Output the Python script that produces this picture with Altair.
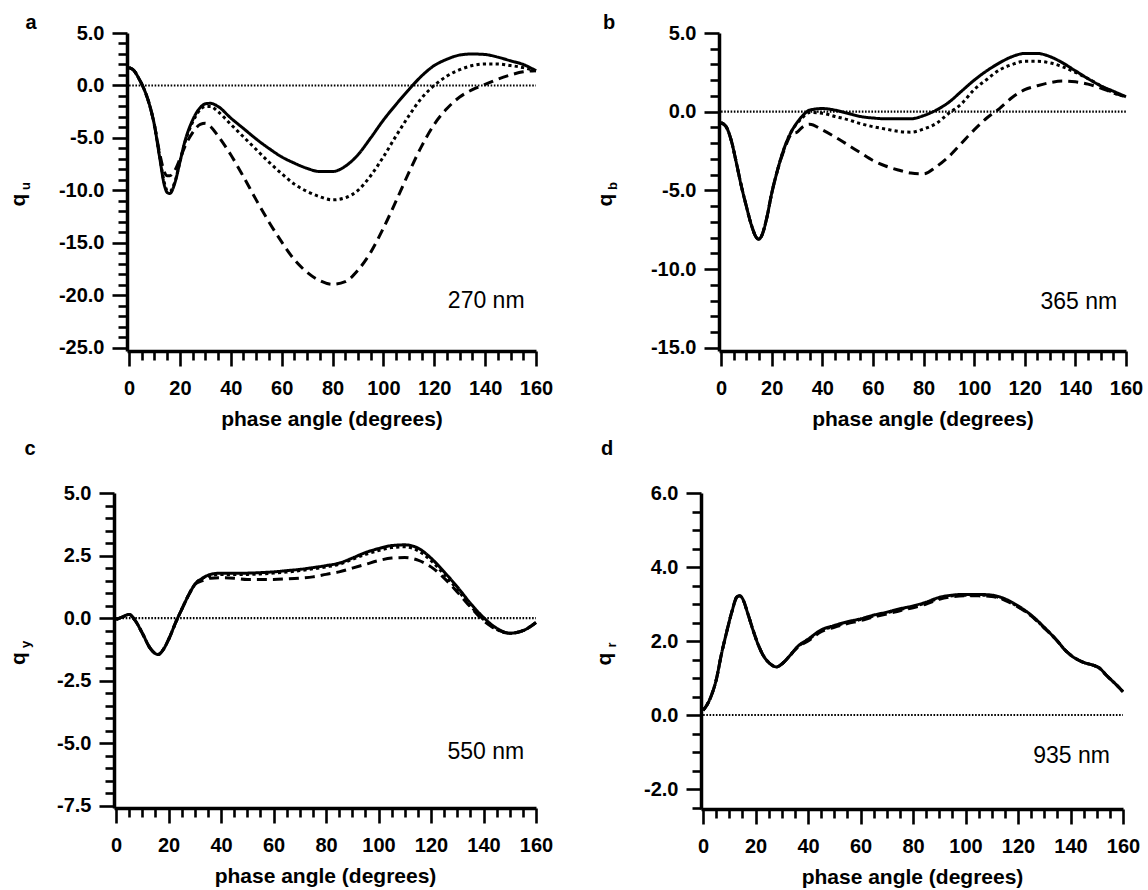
import altair as alt
import pandas as pd

# ---------------- data ----------------
# panel a : 270 nm
angle_a = [0, 2, 4, 6, 8, 10, 12, 14, 15, 16, 18, 20, 22, 25, 28, 30, 32, 35, 40, 45, 50, 55,
           60, 65, 70, 75, 80, 85, 90, 95, 100, 105, 110, 115, 120, 125, 130, 135, 140, 145,
           150, 155, 160]
qu_solid = [1.7, 1.4, 0.6, -0.4, -1.8, -3.8, -6.8, -9.6, -10.2, -10.3, -9.3, -7.3, -5.3, -3.3,
            -2.1, -1.75, -1.7, -2.0, -3.1, -4.1, -5.1, -6.0, -6.8, -7.4, -7.9, -8.2, -8.2, -7.7,
            -6.6, -5.0, -3.3, -1.8, -0.4, 0.9, 1.9, 2.5, 2.9, 3.0, 2.95, 2.7, 2.35, 2.0, 1.4]
qu_dotted = [1.7, 1.4, 0.6, -0.4, -1.8, -3.8, -6.7, -9.4, -10.0, -10.1, -9.2, -7.3, -5.4, -3.5,
             -2.3, -2.0, -2.0, -2.5, -3.7, -4.9, -6.1, -7.3, -8.4, -9.4, -10.1, -10.6, -10.9,
             -10.7, -10.0, -8.6, -6.8, -4.8, -2.9, -1.2, 0.0, 0.9, 1.5, 1.9, 2.05, 2.05, 1.9,
             1.7, 1.4]
qu_dashed = [1.7, 1.4, 0.6, -0.4, -1.8, -3.8, -6.4, -8.3, -8.6, -8.6, -8.1, -7.0, -5.8, -4.5,
             -3.7, -3.6, -3.9, -4.8, -6.6, -8.7, -10.9, -13.0, -14.9, -16.6, -17.8, -18.6,
             -18.95, -18.7, -17.6, -15.9, -13.6, -11.0, -8.3, -5.8, -3.7, -2.2, -1.1, -0.4,
             0.1, 0.6, 1.0, 1.3, 1.4]

# panel b : 365 nm
angle_b = [0, 2, 4, 6, 8, 10, 12, 14, 15, 16, 18, 20, 22, 25, 28, 30, 32, 35, 40, 45, 50, 55,
           60, 65, 70, 75, 80, 85, 90, 95, 100, 105, 110, 115, 120, 125, 130, 135, 140, 145,
           150, 155, 160]
qb_solid = [-0.7, -0.95, -1.8, -3.2, -4.7, -6.0, -7.2, -8.0, -8.1, -7.9, -6.8, -5.2, -3.9, -2.3,
            -1.2, -0.7, -0.3, 0.1, 0.2, 0.1, -0.1, -0.3, -0.4, -0.45, -0.45, -0.45, -0.25, 0.1,
            0.6, 1.3, 2.0, 2.6, 3.1, 3.5, 3.7, 3.7, 3.5, 3.1, 2.6, 2.1, 1.65, 1.3, 0.95]
qb_dotted = [-0.7, -0.95, -1.8, -3.2, -4.7, -6.0, -7.2, -8.0, -8.1, -7.9, -6.8, -5.2, -3.9,
             -2.3, -1.2, -0.75, -0.4, -0.05, -0.1, -0.3, -0.5, -0.75, -0.95, -1.1, -1.25, -1.3,
             -1.1, -0.75, -0.1, 0.5, 1.4, 2.05, 2.65, 3.0, 3.2, 3.2, 3.1, 2.85, 2.5, 2.1, 1.65,
             1.2, 0.95]
qb_dashed = [-0.7, -0.95, -1.8, -3.2, -4.7, -6.0, -7.2, -8.0, -8.1, -7.9, -6.8, -5.2, -3.9,
             -2.4, -1.4, -1.3, -1.0, -0.8, -1.15, -1.6, -2.1, -2.6, -3.1, -3.45, -3.7, -3.9,
             -3.95, -3.5, -2.85, -2.0, -1.15, -0.4, 0.2, 0.9, 1.4, 1.65, 1.85, 1.95, 1.9, 1.75,
             1.5, 1.2, 0.95]

# panel c : 550 nm
angle_c = [0, 2, 5, 7, 10, 13, 16, 18, 20, 23, 25, 28, 30, 33, 36, 40, 45, 50, 55, 60, 65, 70,
           75, 80, 85, 90, 95, 100, 105, 110, 115, 120, 125, 130, 135, 140, 145, 150, 155, 160]
qy_solid = [-0.05, 0.03, 0.15, -0.05, -0.6, -1.2, -1.45, -1.25, -0.85, -0.1, 0.35, 1.0, 1.35,
            1.6, 1.75, 1.8, 1.8, 1.8, 1.82, 1.85, 1.9, 1.95, 2.02, 2.1, 2.2, 2.4, 2.62, 2.78,
            2.9, 2.93, 2.8, 2.4, 1.85, 1.25, 0.6, 0.03, -0.4, -0.6, -0.5, -0.17]
qy_dotted = [-0.05, 0.03, 0.15, -0.05, -0.6, -1.2, -1.45, -1.25, -0.85, -0.1, 0.35, 1.0, 1.35,
             1.6, 1.7, 1.75, 1.75, 1.75, 1.77, 1.8, 1.84, 1.9, 1.97, 2.05, 2.15, 2.35, 2.55,
             2.7, 2.82, 2.85, 2.7, 2.3, 1.75, 1.15, 0.5, -0.05, -0.45, -0.6, -0.5, -0.17]
qy_dashed = [-0.05, 0.03, 0.15, -0.05, -0.6, -1.2, -1.45, -1.25, -0.85, -0.1, 0.35, 1.0, 1.35,
             1.5, 1.6, 1.62, 1.6, 1.55, 1.55, 1.55, 1.57, 1.6, 1.65, 1.75, 1.85, 2.0, 2.15, 2.3,
             2.4, 2.42, 2.32, 2.05, 1.6, 1.05, 0.45, -0.1, -0.45, -0.6, -0.5, -0.17]

# panel d : 935 nm
angle_d = [0, 1, 3, 5, 7, 9, 11, 13, 14, 15, 17, 19, 21, 23, 25, 28, 30, 33, 36, 40, 45, 50, 55,
           60, 65, 70, 75, 80, 85, 90, 95, 100, 105, 110, 115, 120, 125, 130, 135, 138, 141,
           145, 148, 151, 154, 157, 160]
qr_solid = [0.13, 0.22, 0.5, 0.95, 1.65, 2.25, 2.8, 3.2, 3.22, 3.15, 2.75, 2.3, 1.9, 1.6, 1.42,
            1.3, 1.38, 1.6, 1.85, 2.05, 2.3, 2.42, 2.52, 2.6, 2.7, 2.78, 2.87, 2.95, 3.05, 3.18,
            3.24, 3.26, 3.26, 3.24, 3.14, 2.95, 2.7, 2.37, 2.0, 1.75, 1.57, 1.42, 1.36, 1.27,
            1.05, 0.85, 0.63]
qr_dotted = [0.13, 0.22, 0.5, 0.95, 1.65, 2.25, 2.8, 3.2, 3.22, 3.15, 2.75, 2.3, 1.9, 1.6, 1.42,
             1.3, 1.38, 1.6, 1.84, 2.03, 2.28, 2.4, 2.5, 2.58, 2.68, 2.76, 2.85, 2.93, 3.03,
             3.16, 3.22, 3.24, 3.24, 3.22, 3.12, 2.93, 2.69, 2.36, 2.0, 1.75, 1.57, 1.42, 1.36,
             1.27, 1.05, 0.85, 0.63]
qr_dashed = [0.13, 0.22, 0.5, 0.95, 1.65, 2.25, 2.8, 3.2, 3.22, 3.15, 2.75, 2.3, 1.9, 1.6, 1.42,
             1.3, 1.38, 1.6, 1.83, 2.0, 2.25, 2.37, 2.47, 2.55, 2.65, 2.73, 2.82, 2.9, 3.0, 3.13,
             3.2, 3.22, 3.22, 3.2, 3.1, 2.92, 2.68, 2.35, 2.0, 1.75, 1.57, 1.42, 1.36, 1.27,
             1.05, 0.85, 0.63]

wavelength_labels = ["270 nm", "365 nm", "550 nm", "935 nm"]
label_angle = [155.5, 156.5, 155.5, 155.0]   # right end of the wavelength label (degrees)
label_q = [-20.5, -12.1, -5.35, -1.1]        # vertical centre of the wavelength label
panel_letters = ["a", "b", "c", "d"]
y_subscripts = ["u", "b", "y", "r"]

FONT = "Liberation Sans"
MINUS = "\u2212"


def x_axis():
    return alt.Axis(
        values=list(range(0, 161, 5)),
        labelExpr="datum.value % 20 === 0 ? datum.label : ''",
        format="d",
        tickSize={"condition": {"test": "datum.value % 20 === 0", "value": 15}, "value": 9},
        title="phase angle (degrees)",
        labelOverlap=False, labelFlush=False, grid=False,
        labelPadding=12, titlePadding=10,
    )


def y_axis(lo, hi, minor, major):
    vals = []
    n = int(round((hi - lo) / minor))
    for i in range(n + 1):
        vals.append(round(lo + i * minor, 4))
    test = f"abs(datum.value % {major}) < 0.001"
    return alt.Axis(
        values=vals,
        labelExpr=f"{test} ? replace(format(datum.value, '.1f'), '{MINUS}', '-') : ''",
        tickSize={"condition": {"test": test, "value": 15}, "value": 9},
        title=None, labelOverlap=False, labelFlush=False, grid=False, labelPadding=8,
    )


def panel(i, angles, solid, dotted, dashed, ydom, ylo, yhi, minor, major, width, height,
          letter_dx, letter_dy, title_dx):
    xs = alt.Scale(domain=[-0.8, 160], nice=False, zero=False)
    ys = alt.Scale(domain=ydom, nice=False, zero=False)
    xa = x_axis()
    ya = y_axis(ylo, yhi, minor, major)

    def enc(ch):
        return ch.encode(x=alt.X("angle:Q", scale=xs, axis=xa),
                         y=alt.Y("q:Q", scale=ys, axis=ya))

    zero = enc(alt.Chart(pd.DataFrame({"angle": [0.0, 160.0], "q": [0.0, 0.0]})).mark_line(
        color="black", strokeWidth=2.2, strokeDash=[1.6, 1.6]))

    layers = [zero]
    styles = [(dashed, [10, 6]), (dotted, [3.2, 3.2]), (solid, [1, 0])]
    for vals, dash in styles:
        df = pd.DataFrame({"angle": angles, "q": vals})
        layers.append(enc(alt.Chart(df).mark_line(
            color="black", strokeWidth=3, strokeDash=dash, interpolate="monotone")))

    lab = pd.DataFrame({"angle": [label_angle[i]], "q": [label_q[i]],
                        "txt": [wavelength_labels[i]]})
    layers.append(alt.Chart(lab).mark_text(font=FONT, fontSize=23, align="right",
                                           baseline="middle", color="black")
                  .encode(x=alt.X("angle:Q", scale=xs, axis=xa),
                          y=alt.Y("q:Q", scale=ys, axis=ya), text="txt:N"))

    txt = pd.DataFrame({"t": [0]})
    layers.append(alt.Chart(txt).mark_text(text=panel_letters[i], font=FONT, fontSize=20,
                                           fontWeight="bold", align="center",
                                           baseline="middle")
                  .encode(x=alt.value(letter_dx), y=alt.value(letter_dy)))
    layers.append(alt.Chart(txt).mark_text(text="q", font=FONT, fontSize=21,
                                           fontWeight="bold", align="center",
                                           baseline="middle", angle=270)
                  .encode(x=alt.value(title_dx), y=alt.value(height / 2 + 8)))
    layers.append(alt.Chart(txt).mark_text(text=y_subscripts[i], font=FONT, fontSize=13,
                                           fontWeight="bold", align="center",
                                           baseline="middle", angle=270)
                  .encode(x=alt.value(title_dx + 7), y=alt.value(height / 2 - 6)))
    return alt.layer(*layers).properties(width=width, height=height)


pa = panel(0, angle_a, qu_solid, qu_dotted, qu_dashed, [-25.3, 5], -25, 5, 1, 5, 409, 318,
           -96, -10, -108)
pb = panel(1, angle_b, qb_solid, qb_dotted, qb_dashed, [-15.2, 5], -15, 5, 1, 5, 407, 318,
           -110, -10, -113)
pc = panel(2, angle_c, qy_solid, qy_dotted, qy_dashed, [-7.58, 5], -7.5, 5, 0.5, 2.5, 422, 315,
           -84, -44, -95)
pd_ = panel(3, angle_d, qr_solid, qr_dotted, qr_dashed, [-2.54, 6], -2.5, 6, 0.5, 2, 422, 316,
            -94, -44, -96)


def spacer():
    # an empty, invisible 1-px view so that each row is laid out from its own left edge
    return alt.Chart(pd.DataFrame({"s": [0]})).mark_point(opacity=0, size=1).encode(
        x=alt.value(0), y=alt.value(0)).properties(width=1, height=1)


row1 = alt.hconcat(spacer(), alt.hconcat(pa, pb, spacing=42), spacing=0)
row2 = alt.hconcat(spacer(), alt.hconcat(pc, pd_, spacing=41), spacing=0)
chart = alt.vconcat(row1, row2, spacing=10).properties(
    padding={"left": 6, "top": 13, "right": 2, "bottom": 1}
).configure_view(stroke=None).configure_axis(
    labelFont=FONT, labelFontSize=20, labelFontWeight="bold", labelColor="black",
    titleFont=FONT, titleFontSize=21, titleFontWeight="bold", titleColor="black",
    domainColor="black", domainWidth=3.5, tickColor="black", tickWidth=2.6,
)

chart.save("out.html", embed_options={"renderer": "svg", "actions": False})
